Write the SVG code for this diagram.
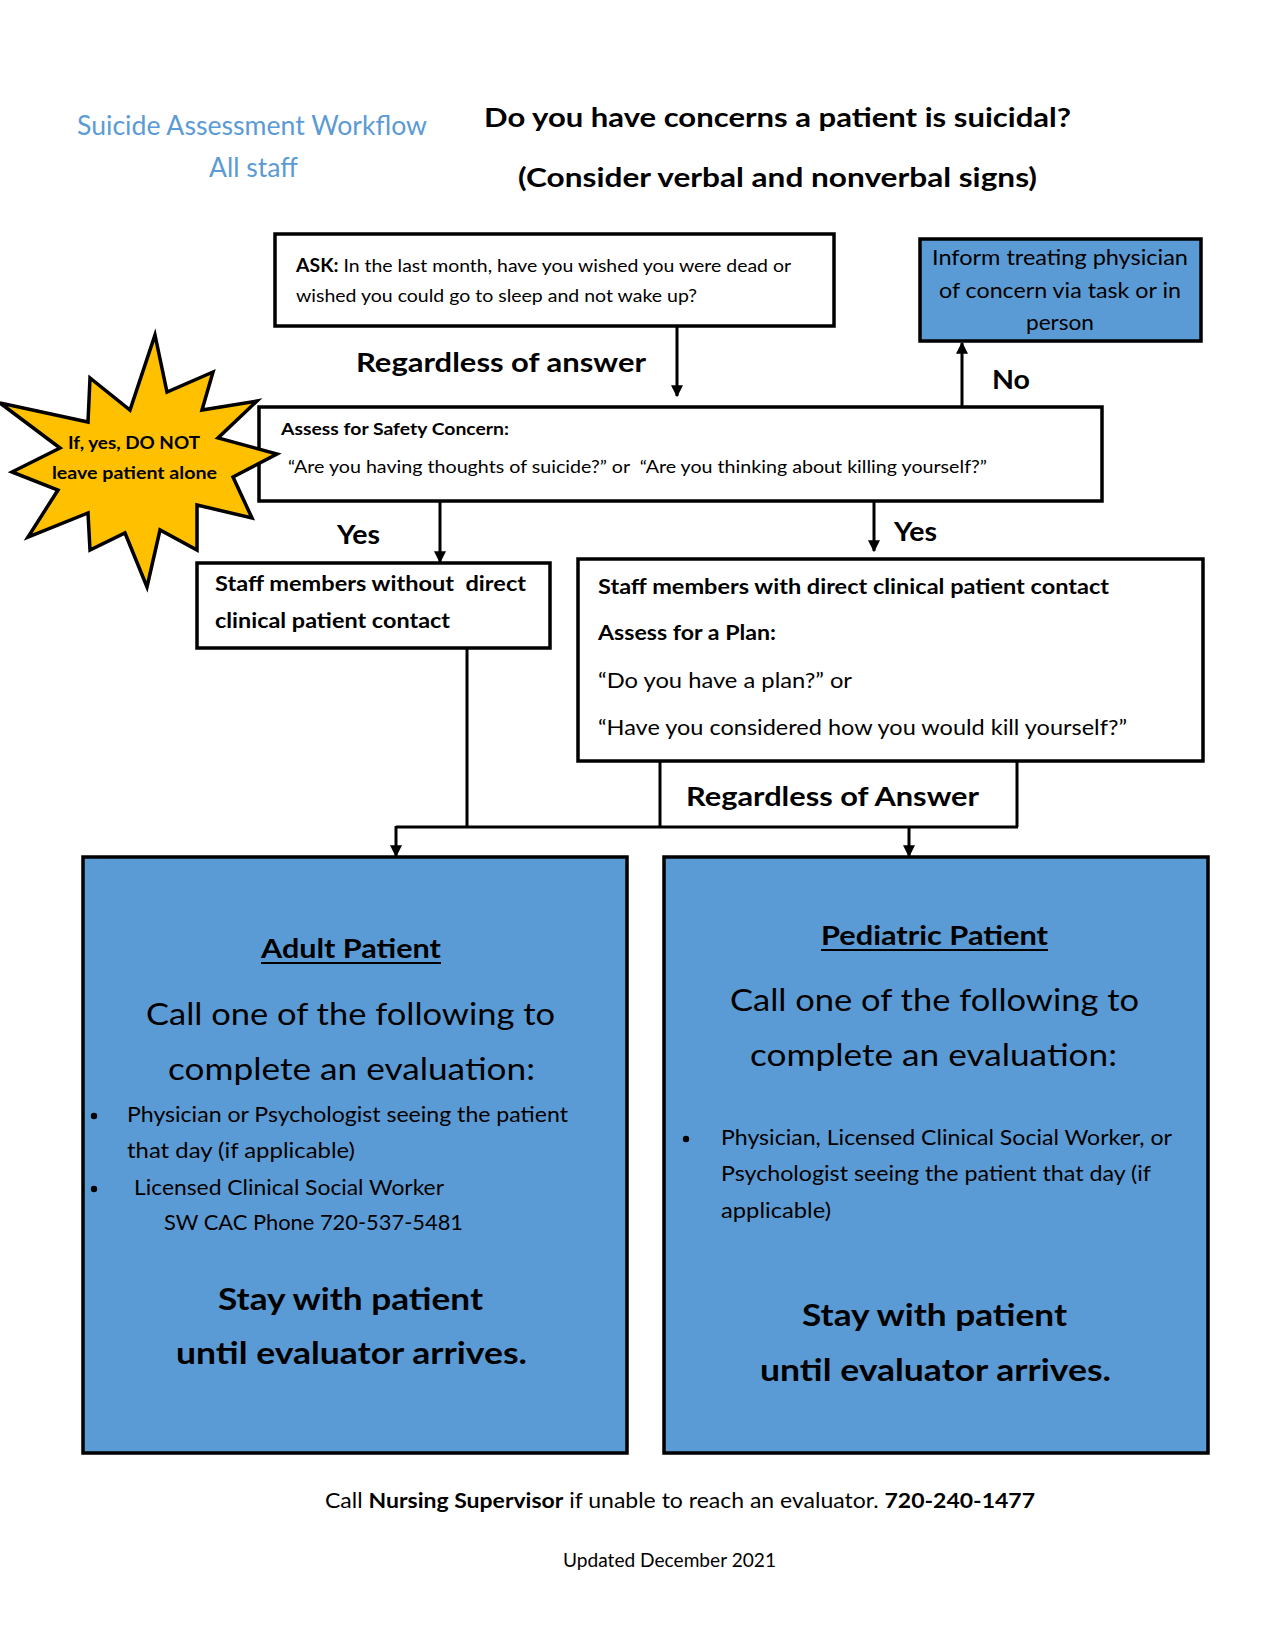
<svg xmlns="http://www.w3.org/2000/svg" width="1275" height="1650" viewBox="0 0 1275 1650">
<defs>
<style>
text{font-family:Lato,"Liberation Sans",sans-serif;fill:#000}
.b{font-weight:bold}
.pre{white-space:pre}
.box{fill:#fff;stroke:#000;stroke-width:3.5}
.blue{fill:#5B9BD5;stroke:#000;stroke-width:3.5}
.ln{fill:none;stroke:#000;stroke-width:3}
.t{fill:#5B9BD5}
</style>
<marker id="ah" viewBox="0 0 10 10" refX="9" refY="5" markerWidth="4" markerHeight="4" orient="auto" markerUnits="strokeWidth">
<path d="M0,0 L10,5 L0,10 z" fill="#000"/>
</marker>
</defs>
<rect width="1275" height="1650" fill="#fff"/>

<g id="title">
<text class="t" x="77" y="135" font-size="26" textLength="350" lengthAdjust="spacingAndGlyphs">Suicide Assessment Workflow</text>
<text class="t" x="209" y="177" font-size="26" textLength="89" lengthAdjust="spacingAndGlyphs">All staff</text>
</g>
<g id="heading">
<text class="b" x="484" y="127" font-size="27" textLength="587" lengthAdjust="spacingAndGlyphs">Do you have concerns a patient is suicidal?</text>
<text class="b" x="518" y="187" font-size="27" textLength="519" lengthAdjust="spacingAndGlyphs">(Consider verbal and nonverbal signs)</text>
</g>

<g id="connectors">
<line class="ln" x1="677" y1="326" x2="677" y2="396" marker-end="url(#ah)"/>
<line class="ln" x1="962" y1="407" x2="962" y2="343" marker-end="url(#ah)"/>
<line class="ln" x1="440" y1="501" x2="440" y2="562" marker-end="url(#ah)"/>
<line class="ln" x1="874" y1="501" x2="874" y2="551" marker-end="url(#ah)"/>
<polyline class="ln" points="467,648 467,827"/>
<polyline class="ln" points="660,761 660,827"/>
<polyline class="ln" points="1017,761 1017,827"/>
<polyline class="ln" points="396,827 1018,827"/>
<line class="ln" x1="396" y1="826" x2="396" y2="856" marker-end="url(#ah)"/>
<line class="ln" x1="909" y1="826" x2="909" y2="856" marker-end="url(#ah)"/>
<text class="b" x="356" y="372" font-size="27" textLength="290" lengthAdjust="spacingAndGlyphs">Regardless of answer</text>
<text class="b" x="992" y="389" font-size="27" textLength="38" lengthAdjust="spacingAndGlyphs">No</text>
<text class="b" x="337" y="544" font-size="27" textLength="43" lengthAdjust="spacingAndGlyphs">Yes</text>
<text class="b" x="894" y="541" font-size="27" textLength="43" lengthAdjust="spacingAndGlyphs">Yes</text>
<text class="b" x="686" y="806" font-size="27" textLength="293" lengthAdjust="spacingAndGlyphs">Regardless of Answer</text>
</g>

<g id="ask">
<rect class="box" x="275" y="234" width="559" height="92"/>
<text x="296" y="272" font-size="18" textLength="495" lengthAdjust="spacingAndGlyphs"><tspan class="b">ASK:</tspan> In the last month, have you wished you were dead or</text>
<text x="296" y="302" font-size="18" textLength="401" lengthAdjust="spacingAndGlyphs">wished you could go to sleep and not wake up?</text>
</g>

<g id="inform">
<rect class="blue" x="920" y="239" width="281" height="102"/>
<text x="932" y="265" font-size="21" textLength="256" lengthAdjust="spacingAndGlyphs">Inform treating physician</text>
<text x="939" y="298" font-size="21" textLength="242" lengthAdjust="spacingAndGlyphs">of concern via task or in</text>
<text x="1026" y="330" font-size="21" textLength="68" lengthAdjust="spacingAndGlyphs">person</text>
</g>

<g id="assess">
<rect class="box" x="259" y="407" width="843" height="94"/>
<text class="b" x="281" y="435" font-size="17.5" textLength="228" lengthAdjust="spacingAndGlyphs">Assess for Safety Concern:</text>
<text class="pre" x="288" y="473" font-size="17.5" textLength="699" lengthAdjust="spacingAndGlyphs">“Are you having thoughts of suicide?” or  “Are you thinking about killing yourself?”</text>
</g>

<g id="star">
<polygon points="155,335 167,392 213,372 202,410 257,401 218,438 277,454 233,477 252,518 197,505 197,550 160,530 147,587 125,533 90,550 88,513 28,537 58,490 12,472 60,448 0,403 88,422 90,378 130,410" fill="#FFC000" stroke="#000" stroke-width="3.5" stroke-linejoin="miter"/>
<text class="b" x="68" y="449" font-size="16.5" textLength="132" lengthAdjust="spacingAndGlyphs">If, yes, DO NOT</text>
<text class="b" x="52" y="479" font-size="16.5" textLength="165" lengthAdjust="spacingAndGlyphs">leave patient alone</text>
</g>

<g id="staff-without">
<rect class="box" x="197" y="563" width="353" height="85"/>
<text class="b pre" x="215" y="591" font-size="20.5" textLength="311" lengthAdjust="spacingAndGlyphs">Staff members without  direct</text>
<text class="b" x="215" y="628" font-size="20.5" textLength="235" lengthAdjust="spacingAndGlyphs">clinical patient contact</text>
</g>

<g id="staff-with">
<rect class="box" x="578" y="559" width="625" height="202"/>
<text class="b" x="598" y="594" font-size="20.5" textLength="511" lengthAdjust="spacingAndGlyphs">Staff members with direct clinical patient contact</text>
<text class="b" x="598" y="640" font-size="20.5" textLength="178" lengthAdjust="spacingAndGlyphs">Assess for a Plan:</text>
<text x="598" y="688" font-size="21.5" textLength="254" lengthAdjust="spacingAndGlyphs">“Do you have a plan?” or</text>
<text x="598" y="735" font-size="21.5" textLength="529" lengthAdjust="spacingAndGlyphs">“Have you considered how you would kill yourself?”</text>
</g>

<g id="adult">
<rect class="blue" x="83" y="857" width="544" height="596"/>
<text class="b" x="261" y="958" font-size="27" textLength="180" lengthAdjust="spacingAndGlyphs">Adult Patient</text>
<line x1="261" y1="963" x2="441" y2="963" stroke="#000" stroke-width="2"/>
<text x="146" y="1025" font-size="31" textLength="409" lengthAdjust="spacingAndGlyphs">Call one of the following to</text>
<text x="168" y="1080" font-size="31" textLength="367" lengthAdjust="spacingAndGlyphs">complete an evaluation:</text>
<circle cx="94" cy="1116" r="3.2" fill="#000"/>
<text x="127" y="1122" font-size="21" textLength="441" lengthAdjust="spacingAndGlyphs">Physician or Psychologist seeing the patient</text>
<text x="127" y="1158" font-size="21" textLength="228" lengthAdjust="spacingAndGlyphs">that day (if applicable)</text>
<circle cx="94" cy="1189" r="3.2" fill="#000"/>
<text x="134" y="1195" font-size="21" textLength="310" lengthAdjust="spacingAndGlyphs">Licensed Clinical Social Worker</text>
<text x="164" y="1230" font-size="21" textLength="299" lengthAdjust="spacingAndGlyphs">SW CAC Phone 720-537-5481</text>
<text class="b" x="218" y="1310" font-size="30" textLength="265" lengthAdjust="spacingAndGlyphs">Stay with patient</text>
<text class="b" x="176" y="1364" font-size="30" textLength="351" lengthAdjust="spacingAndGlyphs">until evaluator arrives.</text>
</g>

<g id="pediatric">
<rect class="blue" x="664" y="857" width="544" height="596"/>
<text class="b" x="821" y="945" font-size="27" textLength="227" lengthAdjust="spacingAndGlyphs">Pediatric Patient</text>
<line x1="821" y1="950" x2="1048" y2="950" stroke="#000" stroke-width="2"/>
<text x="730" y="1011" font-size="31" textLength="409" lengthAdjust="spacingAndGlyphs">Call one of the following to</text>
<text x="750" y="1066" font-size="31" textLength="367" lengthAdjust="spacingAndGlyphs">complete an evaluation:</text>
<circle cx="686" cy="1139" r="3.2" fill="#000"/>
<text x="721" y="1145" font-size="21" textLength="451" lengthAdjust="spacingAndGlyphs">Physician, Licensed Clinical Social Worker, or</text>
<text x="721" y="1181" font-size="21" textLength="430" lengthAdjust="spacingAndGlyphs">Psychologist seeing the patient that day (if</text>
<text x="721" y="1218" font-size="21" textLength="110" lengthAdjust="spacingAndGlyphs">applicable)</text>
<text class="b" x="802" y="1326" font-size="30" textLength="265" lengthAdjust="spacingAndGlyphs">Stay with patient</text>
<text class="b" x="760" y="1381" font-size="30" textLength="351" lengthAdjust="spacingAndGlyphs">until evaluator arrives.</text>
</g>

<g id="footer">
<text x="325" y="1508" font-size="21" textLength="710" lengthAdjust="spacingAndGlyphs">Call <tspan class="b">Nursing Supervisor</tspan> if unable to reach an evaluator. <tspan class="b">720-240-1477</tspan></text>
<text x="563" y="1567" font-size="18.5" textLength="213" lengthAdjust="spacingAndGlyphs">Updated December 2021</text>
</g>
</svg>
